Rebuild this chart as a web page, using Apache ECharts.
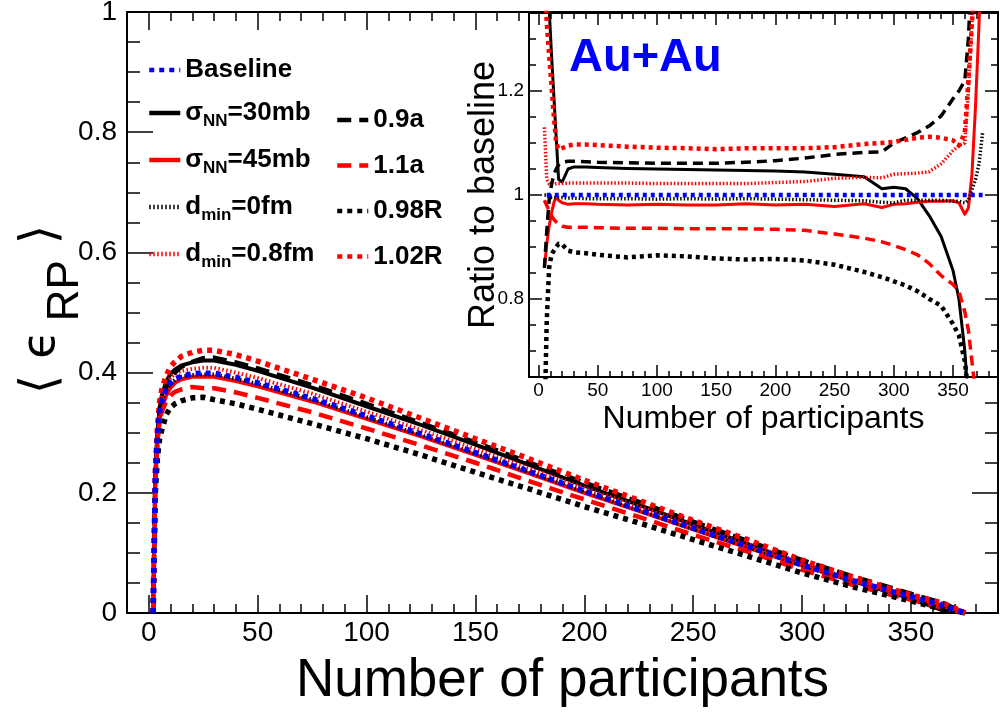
<!DOCTYPE html>
<html>
<head>
<meta charset="utf-8">
<script src="https://cdn.jsdelivr.net/npm/echarts@6/dist/echarts.min.js"></script>
<style>
  html, body { margin: 0; padding: 0; background: #fff; }
  #chart { width: 1004px; height: 715px; }
</style>
</head>
<body>
<div id="chart"></div>
<script>
// ---- main panel: <eps_RP> versus number of participants ----
const npart = [2, 3, 4, 5, 6, 8, 10, 12, 15, 20, 25, 30, 40, 50, 75, 100, 125, 150, 175, 200, 225, 250, 275, 300, 325, 350, 365, 375];
const epsBaseline = [0, 0.225, 0.295, 0.335, 0.352, 0.372, 0.383, 0.389, 0.394, 0.398, 0.399, 0.399, 0.392, 0.383, 0.357, 0.328, 0.298, 0.267, 0.235, 0.203, 0.172, 0.141, 0.111, 0.080, 0.052, 0.027, 0.012, 0];
const epsSigma30 = [0, 0.23, 0.30, 0.342, 0.362, 0.385, 0.398, 0.405, 0.412, 0.417, 0.420, 0.420, 0.413, 0.403, 0.375, 0.344, 0.313, 0.280, 0.246, 0.212, 0.180, 0.147, 0.115, 0.081, 0.0515, 0.024, 0.004, 0];
const epsSigma45 = [0, 0.215, 0.285, 0.322, 0.34, 0.362, 0.375, 0.383, 0.389, 0.393, 0.393, 0.393, 0.386, 0.377, 0.352, 0.323, 0.294, 0.263, 0.232, 0.200, 0.170, 0.139, 0.109, 0.079, 0.0515, 0.0267, 0.0118, 0.001];
const epsDmin0 = [0, 0.224, 0.294, 0.334, 0.351, 0.371, 0.382, 0.388, 0.393, 0.396, 0.397, 0.397, 0.39, 0.381, 0.355, 0.326, 0.296, 0.2655, 0.234, 0.202, 0.171, 0.140, 0.110, 0.079, 0.0515, 0.0267, 0.0118, 0];
const epsDmin08 = [0, 0.228, 0.3, 0.342, 0.36, 0.38, 0.392, 0.398, 0.403, 0.406, 0.408, 0.408, 0.4, 0.391, 0.365, 0.335, 0.3045, 0.273, 0.240, 0.208, 0.177, 0.1455, 0.115, 0.083, 0.054, 0.029, 0.0156, 0];
const epsA09 = [0, 0.222, 0.292, 0.333, 0.352, 0.376, 0.392, 0.4, 0.41, 0.418, 0.424, 0.425, 0.417, 0.407, 0.379, 0.348, 0.316, 0.284, 0.250, 0.217, 0.185, 0.152, 0.120, 0.088, 0.059, 0.032, 0.016, 0];
const epsA11 = [0, 0.22, 0.285, 0.32, 0.335, 0.352, 0.362, 0.368, 0.372, 0.376, 0.374, 0.374, 0.367, 0.358, 0.334, 0.307, 0.279, 0.250, 0.219, 0.189, 0.160, 0.130, 0.102, 0.072, 0.045, 0.022, 0.008, 0];
const epsR098 = [0, 0.2, 0.26, 0.29, 0.305, 0.33, 0.342, 0.348, 0.353, 0.358, 0.359, 0.355, 0.348, 0.339, 0.315, 0.290, 0.263, 0.234, 0.206, 0.177, 0.150, 0.122, 0.0946, 0.0667, 0.042, 0.020, 0.006, 0];
const epsR102 = [0, 0.235, 0.31, 0.352, 0.372, 0.395, 0.41, 0.418, 0.427, 0.434, 0.437, 0.437, 0.43, 0.419, 0.389, 0.358, 0.324, 0.290, 0.256, 0.221, 0.1875, 0.154, 0.122, 0.088, 0.058, 0.030, 0.016, 0];

// ---- inset: ratio to baseline ----
const npartRatio = [5, 7, 9, 11, 13, 15, 17, 20, 25, 30, 40, 50, 75, 100, 125, 150, 175, 200, 225, 250, 275, 290, 300, 310, 320, 330, 340, 350, 355, 360, 363, 366, 369, 372, 375];
const ratioBaseline = [null, 1, 1, 1, 1, 1, 1, 1, 1, 1, 1, 1, 1, 1, 1, 1, 1, 1, 1, 1, 1, 1, 1, 1, 1, 1, 1, 1, 1, 1, 1, 1, 1, 1, 1];
const ratioSigma30 = [1.7, 1.5, 1.36, 1.27, 1.19, 1.11, 1.03, 1.025, 1.05, 1.054, 1.054, 1.053, 1.051, 1.05, 1.049, 1.048, 1.047, 1.046, 1.044, 1.04, 1.035, 1.012, 1.015, 1.012, 0.993, 0.96, 0.92, 0.855, 0.8, 0.7, 0.6, 0.5, null, null, null];
const ratioSigma45 = [0.86, 0.905, 0.94, 0.965, 0.985, 0.997, 0.99, 0.985, 0.982, 0.983, 0.983, 0.982, 0.981, 0.982, 0.981, 0.981, 0.983, 0.981, 0.982, 0.978, 0.983, 0.976, 0.982, 0.983, 0.986, 0.988, 0.988, 0.989, 0.985, 0.963, 0.975, 1.04, 1.17, 1.33, 1.5];
const ratioDmin0 = [1.0, 1.0, 0.997, 0.995, 0.995, 0.995, 0.995, 0.995, 0.994, 0.994, 0.993, 0.993, 0.993, 0.992, 0.993, 0.992, 0.993, 0.992, 0.991, 0.99, 0.989, 0.986, 0.985, 0.99, 0.99, 0.99, 0.99, 0.988, 0.988, 0.985, 0.99, 1.01, 1.03, 1.06, 1.12];
const ratioDmin08 = [1.13, 1.03, 1.022, 1.02, 1.02, 1.022, 1.022, 1.022, 1.023, 1.023, 1.023, 1.023, 1.023, 1.022, 1.022, 1.022, 1.022, 1.024, 1.026, 1.032, 1.034, 1.033, 1.04, 1.041, 1.042, 1.045, 1.06, 1.085, 1.095, 1.1, 1.2, 1.33, 1.45, null, null];
const ratioA09 = [0.86, 0.93, 0.99, 1.02, 1.04, 1.05, 1.058, 1.063, 1.065, 1.065, 1.064, 1.063, 1.062, 1.061, 1.061, 1.061, 1.063, 1.066, 1.071, 1.078, 1.082, 1.083, 1.1, 1.11, 1.12, 1.133, 1.152, 1.185, 1.2, 1.22, 1.3, 1.45, null, null, null];
const ratioA11 = [0.99, 0.98, 0.97, 0.96, 0.953, 0.948, 0.944, 0.94, 0.938, 0.938, 0.938, 0.937, 0.936, 0.936, 0.935, 0.935, 0.935, 0.934, 0.932, 0.925, 0.917, 0.91, 0.903, 0.895, 0.885, 0.868, 0.845, 0.828, 0.815, 0.775, 0.74, 0.68, 0.62, 0.5, null];
const ratioR098 = [0.55, 0.76, 0.86, 0.885, 0.893, 0.9, 0.906, 0.905, 0.893, 0.89, 0.888, 0.885, 0.88, 0.884, 0.882, 0.878, 0.876, 0.877, 0.874, 0.866, 0.852, 0.842, 0.834, 0.826, 0.815, 0.8, 0.787, 0.752, 0.73, 0.68, 0.62, 0.5, null, null, null];
const ratioR102 = [1.45, 1.33, 1.27, 1.21, 1.15, 1.1, 1.088, 1.09, 1.095, 1.097, 1.097, 1.096, 1.093, 1.091, 1.09, 1.088, 1.09, 1.09, 1.09, 1.092, 1.098, 1.1, 1.102, 1.106, 1.11, 1.112, 1.11, 1.105, 1.095, 1.12, 1.22, 1.33, 1.45, null, null];

// ---- tick positions and labels ----
const xMajorTicks = [0, 50, 100, 150, 200, 250, 300, 350];
const xMinorTicks = [-10, 0, 10, 20, 30, 40, 50, 60, 70, 80, 90, 100, 110, 120, 130, 140, 150, 160, 170, 180, 190, 200, 210, 220, 230, 240, 250, 260, 270, 280, 290, 300, 310, 320, 330, 340, 350, 360, 370, 380, 390];
const yMajorTicks = [0, 0.2, 0.4, 0.6, 0.8, 1];
const yMinorTicks = [0, 0.05, 0.1, 0.15, 0.2, 0.25, 0.3, 0.35, 0.4, 0.45, 0.5, 0.55, 0.6, 0.65, 0.7, 0.75, 0.8, 0.85, 0.9, 0.95, 1];
const insetXMinorTicks = [0, 10, 20, 30, 40, 50, 60, 70, 80, 90, 100, 110, 120, 130, 140, 150, 160, 170, 180, 190, 200, 210, 220, 230, 240, 250, 260, 270, 280, 290, 300, 310, 320, 330, 340, 350, 360, 370, 380];
const insetYMajorTicks = [0.8, 1, 1.2];
const insetYMinorTicks = [0.65, 0.7, 0.75, 0.8, 0.85, 0.9, 0.95, 1, 1.05, 1.1, 1.15, 1.2, 1.25, 1.3, 1.35];

const FONT = '"Liberation Sans", Arial, Helvetica, sans-serif';

// legend entries: series name -> rich text label
const legendLabels = {
  'Baseline': '{t|Baseline}',
  'σNN=30mb': '{t|σ}{s|NN}{t|=30mb}',
  'σNN=45mb': '{t|σ}{s|NN}{t|=45mb}',
  'dmin=0fm': '{t|d}{s|min}{t|=0fm}',
  'dmin=0.8fm': '{t|d}{s|min}{t|=0.8fm}',
  '0.9a': '{t|0.9a}',
  '1.1a': '{t|1.1a}',
  '0.98R': '{t|0.98R}',
  '1.02R': '{t|1.02R}'
};

// line appearance of each model variant
const looks = {
  'Baseline':   { color: '#0000ff', kind: 'square' },
  'σNN=30mb':   { color: '#000000', kind: 'solid' },
  'σNN=45mb':   { color: '#ff0000', kind: 'solid' },
  'dmin=0fm':   { color: '#000000', kind: 'fine' },
  'dmin=0.8fm': { color: '#ff0000', kind: 'fine' },
  '0.9a':       { color: '#000000', kind: 'dash' },
  '1.1a':       { color: '#ff0000', kind: 'dash' },
  '0.98R':      { color: '#000000', kind: 'square' },
  '1.02R':      { color: '#ff0000', kind: 'square' }
};
const mainStroke = {
  solid:  { type: 'solid', width: 4 },
  dash:   { type: [14, 8], width: 4.5 },
  square: { type: [5, 5], width: 5.5 },
  fine:   { type: [1.5, 2.5], width: 4 }
};
const insetStroke = {
  solid:  { type: 'solid', width: 3 },
  dash:   { type: [10, 6], width: 3.5 },
  square: { type: [4, 4], width: 4.5 },
  fine:   { type: [1.5, 2], width: 3.5 }
};

// draw order (baseline on top)
const mainSets = [
  ['σNN=30mb', epsSigma30], ['σNN=45mb', epsSigma45], ['dmin=0fm', epsDmin0], ['dmin=0.8fm', epsDmin08],
  ['0.9a', epsA09], ['1.1a', epsA11], ['0.98R', epsR098], ['1.02R', epsR102], ['Baseline', epsBaseline]
];
const ratioSets = [
  ['σNN=30mb', ratioSigma30], ['σNN=45mb', ratioSigma45], ['dmin=0fm', ratioDmin0], ['dmin=0.8fm', ratioDmin08],
  ['0.9a', ratioA09], ['1.1a', ratioA11], ['0.98R', ratioR098], ['1.02R', ratioR102], ['Baseline', ratioBaseline]
];

function valueAxis(o) {
  const ax = {
    type: 'value',
    gridIndex: o.grid,
    position: o.position,
    min: o.min,
    max: o.max,
    z: o.z,
    axisLine: { show: true, onZero: false, lineStyle: { color: '#000', width: 2 } },
    axisTick: { show: true, inside: true, length: o.tickLength, customValues: o.ticks,
                lineStyle: { color: '#000', width: 1.5 } },
    axisLabel: { show: false },
    splitLine: { show: false },
    axisPointer: { show: false }
  };
  if (o.labels) {
    ax.axisLabel = {
      show: true, customValues: o.labels, formatter: v => String(v),
      margin: o.labelMargin, fontSize: o.fontSize, fontFamily: FONT, color: '#000',
      showMinLabel: true, showMaxLabel: true
    };
  }
  if (o.name) {
    ax.name = o.name;
    ax.nameLocation = 'middle';
    ax.nameGap = o.nameGap;
    ax.nameMoveOverlap = false;
    if (o.nameRotate !== undefined) ax.nameRotate = o.nameRotate;
    ax.nameTextStyle = o.nameStyle;
  }
  return ax;
}

const xAxes = [
  // main panel
  valueAxis({ grid: 0, position: 'bottom', min: -10, max: 390, ticks: xMajorTicks, tickLength: 18,
              labels: xMajorTicks, fontSize: 28, labelMargin: 6,
              name: 'Number of participants', nameGap: 42,
              nameStyle: { fontSize: 53, lineHeight: 53, fontFamily: FONT, color: '#000' } }),
  valueAxis({ grid: 0, position: 'bottom', min: -10, max: 390, ticks: xMinorTicks, tickLength: 9 }),
  valueAxis({ grid: 0, position: 'top', min: -10, max: 390, ticks: xMajorTicks, tickLength: 18 }),
  valueAxis({ grid: 0, position: 'top', min: -10, max: 390, ticks: xMinorTicks, tickLength: 9 }),
  // inset
  valueAxis({ grid: 1, position: 'bottom', min: -8, max: 388, ticks: xMajorTicks, tickLength: 12, z: 11,
              labels: xMajorTicks, fontSize: 19, labelMargin: 4,
              name: 'Number of participants', nameGap: 26,
              nameStyle: { fontSize: 32, lineHeight: 32, fontFamily: FONT, color: '#000' } }),
  valueAxis({ grid: 1, position: 'bottom', min: -8, max: 388, ticks: insetXMinorTicks, tickLength: 6, z: 11 }),
  valueAxis({ grid: 1, position: 'top', min: -8, max: 388, ticks: xMajorTicks, tickLength: 12, z: 11 }),
  valueAxis({ grid: 1, position: 'top', min: -8, max: 388, ticks: insetXMinorTicks, tickLength: 6, z: 11 })
];

const yAxes = [
  // main panel
  valueAxis({ grid: 0, position: 'left', min: 0, max: 1, ticks: yMajorTicks, tickLength: 26,
              labels: yMajorTicks, fontSize: 28, labelMargin: 10,
              name: '{b|⟨ }{e|ϵ\u2009}{s|RP}{b| ⟩}', nameGap: 39, nameRotate: 90,
              nameStyle: {
                padding: [0, 0, 0, 6],
                rich: {
                  b: { fontFamily: '"DejaVu Sans", sans-serif', fontSize: 50, lineHeight: 92, color: '#000' },
                  e: { fontFamily: '"DejaVu Sans", sans-serif', fontSize: 46, lineHeight: 92, color: '#000' },
                  s: { fontFamily: FONT, fontSize: 44, lineHeight: 44, verticalAlign: 'bottom', color: '#000' }
                }
              } }),
  valueAxis({ grid: 0, position: 'left', min: 0, max: 1, ticks: yMinorTicks, tickLength: 13 }),
  valueAxis({ grid: 0, position: 'right', min: 0, max: 1, ticks: yMajorTicks, tickLength: 26 }),
  valueAxis({ grid: 0, position: 'right', min: 0, max: 1, ticks: yMinorTicks, tickLength: 13 }),
  // inset
  valueAxis({ grid: 1, position: 'left', min: 0.65, max: 1.35, ticks: insetYMajorTicks, tickLength: 13, z: 11,
              labels: insetYMajorTicks, fontSize: 19, labelMargin: 5,
              name: 'Ratio to baseline', nameGap: 27, nameRotate: 90,
              nameStyle: { fontSize: 36, lineHeight: 36, fontFamily: FONT, color: '#000' } }),
  valueAxis({ grid: 1, position: 'left', min: 0.65, max: 1.35, ticks: insetYMinorTicks, tickLength: 7, z: 11 }),
  valueAxis({ grid: 1, position: 'right', min: 0.65, max: 1.35, ticks: insetYMajorTicks, tickLength: 13, z: 11 }),
  valueAxis({ grid: 1, position: 'right', min: 0.65, max: 1.35, ticks: insetYMinorTicks, tickLength: 7, z: 11 })
];

const series = [];
mainSets.forEach(([name, values]) => {
  const look = looks[name];
  const stroke = mainStroke[look.kind];
  series.push({
    name: name, type: 'line', xAxisIndex: 0, yAxisIndex: 0,
    data: npart.map((x, i) => [x, values[i]]),
    symbol: 'none', clip: true, z: 2,
    color: look.color,
    lineStyle: { color: look.color, width: stroke.width, type: stroke.type, cap: 'butt', join: 'round' }
  });
});
ratioSets.forEach(([name, values]) => {
  const look = looks[name];
  const stroke = insetStroke[look.kind];
  series.push({
    name: 'ratio ' + name, type: 'line', xAxisIndex: 4, yAxisIndex: 4,
    data: npartRatio.map((x, i) => [x, values[i]]),
    symbol: 'none', clip: true, z: 12,
    color: look.color,
    lineStyle: { color: look.color, width: stroke.width, type: stroke.type, cap: 'butt', join: 'round' }
  });
});

const legendRich = {
  t: { fontFamily: FONT, fontSize: 26, fontWeight: 'bold', lineHeight: 34, color: '#000' },
  s: { fontFamily: FONT, fontSize: 17, fontWeight: 'bold', lineHeight: 14, verticalAlign: 'bottom', color: '#000' }
};
function legendBlock(names, left, top, gap) {
  return {
    data: names, orient: 'vertical', left: left, top: top, padding: 0,
    itemWidth: 31, itemHeight: 14, itemGap: gap, selectedMode: false,
    itemStyle: { opacity: 0, borderWidth: 0 },
    lineStyle: { width: 4.5 },
    formatter: name => legendLabels[name],
    textStyle: { rich: legendRich }
  };
}

const option = {
  animation: false,
  backgroundColor: '#ffffff',
  grid: [
    { left: 127, top: 12, right: 6, bottom: 102, show: false, outerBoundsMode: 'none' },
    { left: 529, top: 13, right: 6, bottom: 338, show: true, backgroundColor: '#ffffff',
      borderWidth: 0, z: 10, outerBoundsMode: 'none' }
  ],
  title: {
    text: 'Au+Au', left: 569, top: 35, padding: 0, z: 20,
    textStyle: { color: '#0000ff', fontSize: 47, lineHeight: 47, fontWeight: 'bold', fontFamily: FONT }
  },
  legend: [
    legendBlock(['Baseline', 'σNN=30mb', 'σNN=45mb', 'dmin=0fm', 'dmin=0.8fm'], 147, 57, 17),
    legendBlock(['0.9a', '1.1a', '0.98R', '1.02R'], 335, 107, 19.5)
  ],
  xAxis: xAxes,
  yAxis: yAxes,
  series: series
};

const chart = echarts.init(document.getElementById('chart'), null, { renderer: 'canvas' });
chart.setOption(option);
</script>
</body>
</html>
